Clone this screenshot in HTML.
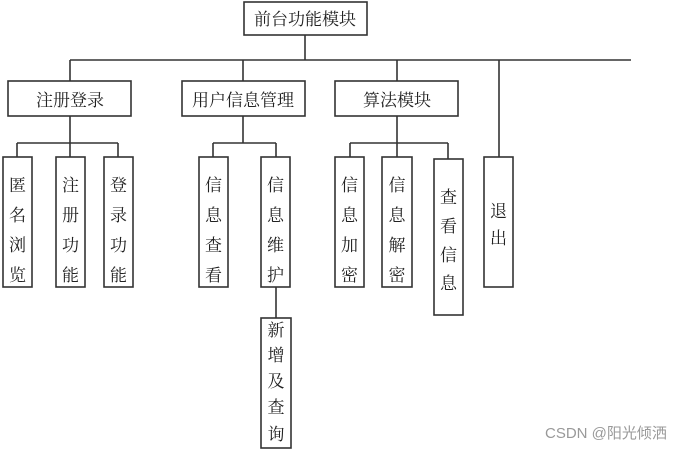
<!DOCTYPE html>
<html><head><meta charset="utf-8"><style>body{margin:0;background:#fff}svg{display:block}</style></head><body>
<svg width="695" height="451" xmlns="http://www.w3.org/2000/svg" font-family="'Liberation Serif','Noto Serif CJK SC','Noto Sans CJK SC',serif" font-size="17" fill="#222">
<g stroke="#333" stroke-width="1.6" fill="none">
<rect x="244" y="2" width="123" height="33"/>
<line x1="305" y1="35" x2="305" y2="60"/>
<line x1="70" y1="60" x2="631" y2="60"/>
<line x1="70" y1="60" x2="70" y2="81"/>
<line x1="243" y1="60" x2="243" y2="81"/>
<line x1="397" y1="60" x2="397" y2="81"/>
<line x1="499" y1="60" x2="499" y2="157"/>
<rect x="8" y="81" width="123" height="35"/>
<rect x="182" y="81" width="123" height="35"/>
<rect x="335" y="81" width="123" height="35"/>
<line x1="70" y1="116" x2="70" y2="157"/>
<line x1="17" y1="143" x2="118" y2="143"/>
<line x1="17" y1="143" x2="17" y2="157"/>
<line x1="118" y1="143" x2="118" y2="157"/>
<line x1="243" y1="116" x2="243" y2="143"/>
<line x1="213" y1="143" x2="276" y2="143"/>
<line x1="213" y1="143" x2="213" y2="157"/>
<line x1="276" y1="143" x2="276" y2="157"/>
<line x1="276" y1="287" x2="276" y2="318"/>
<line x1="397" y1="116" x2="397" y2="157"/>
<line x1="350" y1="143" x2="448" y2="143"/>
<line x1="350" y1="143" x2="350" y2="157"/>
<line x1="448" y1="143" x2="448" y2="159"/>
<rect x="3" y="157" width="29" height="130"/>
<rect x="56" y="157" width="29" height="130"/>
<rect x="104" y="157" width="29" height="130"/>
<rect x="199" y="157" width="29" height="130"/>
<rect x="261" y="157" width="29" height="130"/>
<rect x="335" y="157" width="29" height="130"/>
<rect x="382" y="157" width="30" height="130"/>
<rect x="434" y="159" width="29" height="156"/>
<rect x="484" y="157" width="29" height="130"/>
<rect x="261" y="318" width="30" height="130"/>
</g>
<g text-anchor="middle">
<text x="305" y="25">前台功能模块</text>
<text x="70" y="106">注册登录</text>
<text x="243" y="106">用户信息管理</text>
<text x="397" y="106">算法模块</text>
<g font-size="17">
<text x="17.5" y="191">匿</text><text x="17.5" y="221">名</text><text x="17.5" y="251">浏</text><text x="17.5" y="281">览</text>
<text x="70.5" y="191">注</text><text x="70.5" y="221">册</text><text x="70.5" y="251">功</text><text x="70.5" y="281">能</text>
<text x="118.5" y="191">登</text><text x="118.5" y="221">录</text><text x="118.5" y="251">功</text><text x="118.5" y="281">能</text>
<text x="213.5" y="191">信</text><text x="213.5" y="221">息</text><text x="213.5" y="251">查</text><text x="213.5" y="281">看</text>
<text x="275.5" y="191">信</text><text x="275.5" y="221">息</text><text x="275.5" y="251">维</text><text x="275.5" y="281">护</text>
<text x="349.5" y="191">信</text><text x="349.5" y="221">息</text><text x="349.5" y="251">加</text><text x="349.5" y="281">密</text>
<text x="397" y="191">信</text><text x="397" y="221">息</text><text x="397" y="251">解</text><text x="397" y="281">密</text>
<text x="448.5" y="203">查</text><text x="448.5" y="232">看</text><text x="448.5" y="261">信</text><text x="448.5" y="289">息</text>
<text x="498.5" y="217">退</text><text x="498.5" y="244">出</text>
<text x="276" y="336">新</text><text x="276" y="361">增</text><text x="276" y="387">及</text><text x="276" y="413">查</text><text x="276" y="440">询</text>
</g>
</g>
<text x="545" y="438" font-family="'Liberation Sans','Noto Sans CJK SC',sans-serif" font-size="15" fill="#999">CSDN @阳光倾洒</text>
</svg>
</body></html>
